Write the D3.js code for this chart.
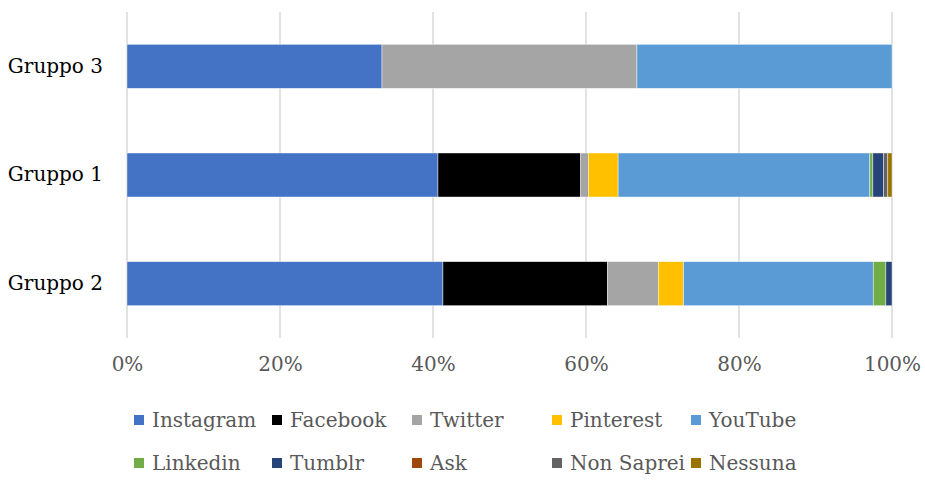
<!DOCTYPE html>
<html><head><meta charset="utf-8">
<script src="https://cdn.jsdelivr.net/npm/d3@7"></script>
<style>body{margin:0;background:#fff}svg{display:block}</style>
</head><body>
<svg id="chart" width="925" height="493"></svg>
<script>
const groups = ["Gruppo 3", "Gruppo 1", "Gruppo 2"];
const seriesNames = ["Instagram","Facebook","Twitter","Pinterest","YouTube","Linkedin","Tumblr","Ask","Non Saprei","Nessuna"];
const seriesColors = ["#4472C4","#000000","#A5A5A5","#FFC000","#5B9BD5","#70AD47","#264478","#9E480E","#636363","#997300"];
// percent values per group, in series order
const gruppo3 = [33.33, 0, 33.33, 0, 33.34, 0, 0, 0, 0, 0];
const gruppo1 = [40.65, 18.65, 1.0, 3.9, 32.9, 0.4, 1.4, 0, 0.55, 0.55];
const gruppo2 = [41.3, 21.5, 6.65, 3.3, 24.8, 1.65, 0.8, 0, 0, 0];
const groupValues = [gruppo3, gruppo1, gruppo2];
const tickValues = [0, 0.2, 0.4, 0.6, 0.8, 1.0];
const tickLabels = ["0%","20%","40%","60%","80%","100%"];

const svg = d3.select("#chart");
const font = "'DejaVu Serif', serif";
const x = d3.scaleLinear().domain([0, 1]).range([127, 892]);
const y = d3.scaleBand().domain(groups).range([12, 338]).paddingInner(0.595).paddingOuter(0.2975);

// gridlines
svg.append("g").selectAll("line").data(tickValues).join("line")
  .attr("x1", d => x(d)).attr("x2", d => x(d))
  .attr("y1", 12).attr("y2", 338)
  .attr("stroke", "#d9d9d9").attr("stroke-width", 1.5);

// stacked data
const rows = groups.map((g, i) => {
  const o = {group: g};
  const tot = d3.sum(groupValues[i]);
  seriesNames.forEach((s, j) => o[s] = groupValues[i][j] / tot);
  return o;
});
const stack = d3.stack().keys(seriesNames)(rows);
const color = d3.scaleOrdinal().domain(seriesNames).range(seriesColors);

svg.append("g").selectAll("g").data(stack).join("g")
  .attr("fill", d => color(d.key))
  .selectAll("rect").data(d => d.filter(e => e[1] - e[0] > 0)).join("rect")
  .attr("x", d => x(d[0]))
  .attr("width", d => x(d[1]) - x(d[0]))
  .attr("y", d => y(d.data.group))
  .attr("height", y.bandwidth())
  .attr("stroke", "#ffffff").attr("stroke-width", 0.6).attr("stroke-opacity", 0.7);

// x axis labels
const xAxis = d3.axisBottom(x).tickValues(tickValues).tickFormat((d, i) => tickLabels[i]).tickSize(0).tickPadding(0);
const gx = svg.append("g").attr("transform", "translate(0,357)").call(xAxis);
gx.select(".domain").remove();
gx.selectAll("text").attr("font-family", font).attr("font-size", 20).attr("fill", "#595959");

// y labels
const yAxis = d3.axisLeft(y).tickSize(0).tickPadding(0);
const gy = svg.append("g").attr("transform", "translate(103,0)").call(yAxis);
gy.select(".domain").remove();
gy.selectAll("text").attr("font-family", font).attr("font-size", 20).attr("fill", "#000000").attr("dy", "0.32em");

// legend
const legCols = [134, 272, 412, 552, 691];
const legRows = [420, 463];
const leg = svg.append("g").selectAll("g").data(seriesNames).join("g")
  .attr("transform", (d, i) => `translate(${legCols[i % 5]},${legRows[Math.floor(i / 5)]})`);
leg.append("rect").attr("x", 0).attr("y", -5).attr("width", 10).attr("height", 10).attr("fill", d => color(d));
leg.append("text").attr("x", 18).attr("dy", "0.35em").text(d => d)
  .attr("font-family", font).attr("font-size", 20).attr("fill", "#595959");
</script>
</body></html>
